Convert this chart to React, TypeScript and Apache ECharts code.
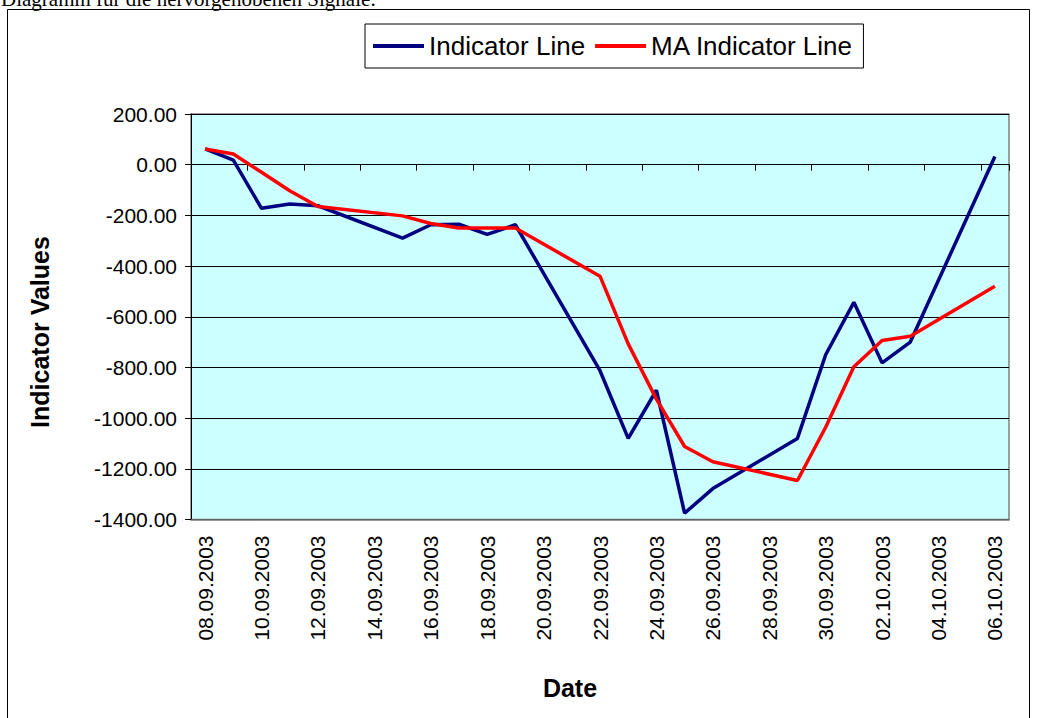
import React, { useEffect, useRef } from "react";
import * as echarts from "echarts";

const dates = [
  "08.09.2003", "09.09.2003", "10.09.2003", "11.09.2003", "12.09.2003", "13.09.2003", "14.09.2003",
  "15.09.2003", "16.09.2003", "17.09.2003", "18.09.2003", "19.09.2003", "20.09.2003", "21.09.2003",
  "22.09.2003", "23.09.2003", "24.09.2003", "25.09.2003", "26.09.2003", "27.09.2003", "28.09.2003",
  "29.09.2003", "30.09.2003", "01.10.2003", "02.10.2003", "03.10.2003", "04.10.2003", "05.10.2003",
  "06.10.2003",
];

const indicatorLine = [
  62, 18, -172, -155, -162, null, null,
  -290, -237, -235, -275, -237, null, null,
  -813, -1080, -890, -1375, -1278, null, null,
  -1080, -750, -543, -782, -700, null, null,
  32,
];

const maIndicatorLine = [
  62, 42, -30, -103, -165, null, null,
  -202, -232, -250, -250, -250, null, null,
  -440, -707, -925, -1112, -1172, null, null,
  -1246, -1036, -797, -694, -677, null, null,
  -480,
];

const yMin = -1400;
const yMax = 200;
const yStep = 200;

const FONT = "'Liberation Sans', Arial, sans-serif";

export default function App() {
  const ref = useRef<HTMLDivElement>(null);

  useEffect(() => {
    if (!ref.current) return;
    const chart = echarts.init(ref.current, undefined, { renderer: "svg" });
    chart.setOption({
      animation: false,
      backgroundColor: "#ffffff",
      textStyle: { fontFamily: FONT },
      graphic: [
        {
          type: "rect",
          shape: { x: 7.5, y: 9.5, width: 1022, height: 720 },
          style: { fill: "none", stroke: "#000", lineWidth: 1 },
          z: -10,
        },
        {
          type: "text",
          x: 1,
          y: 9,
          style: {
            text: "Diagramm für die hervorgehobenen Signale:",
            font: "21px 'Liberation Serif', 'Times New Roman', serif",
            fill: "#000",
            verticalAlign: "bottom",
            align: "left",
          },
        },
        {
          type: "text",
          x: 40,
          y: 332,
          rotation: Math.PI / 2,
          style: {
            text: "Indicator Values",
            font: `bold 25px ${FONT}`,
            fill: "#000",
            align: "center",
            verticalAlign: "middle",
          },
        },
        {
          type: "text",
          x: 570,
          y: 688,
          style: {
            text: "Date",
            font: `bold 25px ${FONT}`,
            fill: "#000",
            align: "center",
            verticalAlign: "middle",
          },
        },
      ],
      legend: {
        left: 365,
        top: 24,
        padding: [9, 10, 9, 8],
        borderColor: "#000",
        borderWidth: 1,
        icon: "rect",
        itemWidth: 51,
        itemHeight: 4,
        itemGap: 10,
        textStyle: { fontSize: 26, color: "#000", fontFamily: FONT },
        data: ["Indicator Line", "MA Indicator Line"],
      },
      grid: {
        left: 191,
        top: 114,
        right: 38,
        bottom: 198.5,
        show: true,
        backgroundColor: "#CCFFFF",
        borderColor: "#808080",
        borderWidth: 1.5,
        containLabel: false,
      },
      xAxis: [
        {
          type: "category",
          data: dates,
          boundaryGap: true,
          position: "bottom",
          axisLine: { show: true, onZero: false, lineStyle: { color: "#808080", width: 1.5 } },
          axisTick: { show: false },
          axisLabel: {
            interval: 1,
            rotate: 90,
            margin: 16,
            fontSize: 21,
            color: "#000",
            fontFamily: FONT,
          },
          splitLine: { show: false },
        },
        {
          type: "category",
          data: dates,
          boundaryGap: true,
          position: "bottom",
          axisLine: { show: true, onZero: true, lineStyle: { color: "#000", width: 1 } },
          axisTick: { show: true, interval: 1, length: 6, inside: false, lineStyle: { color: "#000", width: 1 } },
          axisLabel: { show: false },
          splitLine: { show: false },
        },
      ],
      yAxis: {
        type: "value",
        min: yMin,
        max: yMax,
        interval: yStep,
        axisLine: { show: true, lineStyle: { color: "#000", width: 1 } },
        axisTick: { show: true, length: 6, lineStyle: { color: "#000" } },
        axisLabel: {
          margin: 14,
          fontSize: 21,
          color: "#000",
          fontFamily: FONT,
          formatter: (v: number) => v.toFixed(2),
        },
        splitLine: { show: true, lineStyle: { color: "#000", width: 1 } },
      },
      series: [
        {
          name: "Indicator Line",
          type: "line",
          xAxisIndex: 0,
          data: indicatorLine,
          connectNulls: true,
          symbol: "none",
          lineStyle: { color: "#000080", width: 3.5 },
          itemStyle: { color: "#000080" },
        },
        {
          name: "MA Indicator Line",
          type: "line",
          xAxisIndex: 0,
          data: maIndicatorLine,
          connectNulls: true,
          symbol: "none",
          lineStyle: { color: "#FF0000", width: 3.5 },
          itemStyle: { color: "#FF0000" },
        },
      ],
    });
    return () => chart.dispose();
  }, []);

  return (
    <div
      ref={ref}
      style={{ position: "absolute", left: 0, top: 0, width: 1047, height: 718 }}
    />
  );
}
